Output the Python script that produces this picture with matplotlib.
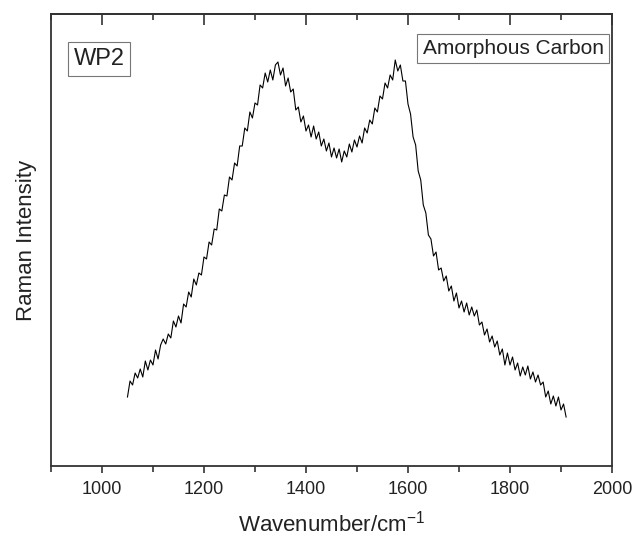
import matplotlib.pyplot as plt
from matplotlib.ticker import MultipleLocator

plt.rcParams['font.family'] = ['Liberation Sans', 'DejaVu Sans']

# Raman spectrum (arbitrary intensity units)
wavenumber = list(range(1050, 1915, 5))
intensity = [
    69, 85, 81, 93, 88, 97, 89, 105, 96, 106,
    101, 116, 107, 121, 127, 122, 132, 128, 145, 139,
    150, 143, 162, 159, 174, 169, 187, 181, 193, 191,
    209, 207, 224, 221, 237, 236, 257, 255, 271, 270,
    289, 286, 303, 300, 320, 320, 338, 335, 354, 348,
    363, 361, 381, 378, 393, 384, 396, 386, 401, 404,
    391, 398, 380, 388, 374, 377, 356, 359, 344, 350,
    335, 341, 329, 340, 327, 334, 320, 327, 315, 323,
    309, 318, 308, 317, 304, 315, 309, 322, 314, 326,
    319, 330, 323, 338, 333, 346, 342, 358, 354, 370,
    367, 383, 378, 391, 386, 406, 395, 401, 385, 385,
    362, 352, 329, 321, 295, 286, 261, 253, 231, 227,
    210, 214, 196, 198, 185, 190, 175, 180, 165, 173,
    158, 165, 154, 163, 151, 159, 150, 156, 141, 144,
    131, 137, 124, 130, 119, 125, 111, 117, 101, 113,
    101, 109, 96, 103, 90, 99, 91, 100, 87, 94,
    84, 91, 81, 84, 69, 75, 62, 70, 60, 69,
    56, 62, 49,
]

sample_label = 'WP2'
material_label = 'Amorphous Carbon'

fig = plt.figure(figsize=(6.34, 5.36), dpi=100)
ax = fig.add_axes([0.0804, 0.1306, 0.8849, 0.8433])

ax.plot(wavenumber, intensity, color='black', linewidth=0.8)

ax.set_xlim(900, 2000)
ax.set_ylim(0, 452)

ax.xaxis.set_major_locator(MultipleLocator(200))
ax.xaxis.set_minor_locator(MultipleLocator(100))
ax.tick_params(axis='x', which='major', direction='out', length=5, width=1.2,
               labelsize=13, colors='#333333', labelcolor='#222222', pad=6)
ax.tick_params(axis='x', which='minor', direction='out', length=4, width=1.2,
               colors='#333333')
ax.set_yticks([])

# top axis: inward ticks, no labels
top = ax.secondary_xaxis('top')
top.xaxis.set_major_locator(MultipleLocator(200))
top.xaxis.set_minor_locator(MultipleLocator(100))
top.tick_params(which='major', direction='in', length=8, width=1.2, colors='#333333')
top.tick_params(which='minor', direction='in', length=4, width=1.2, colors='#333333')
top.set_xticklabels([])
top.spines['top'].set_linewidth(1.3)
top.spines['top'].set_color('#333333')

for s in ax.spines.values():
    s.set_linewidth(1.3)
    s.set_color('#333333')

ax.set_xlabel('Wavenumber/cm$^{\\mathregular{-1}}$', fontsize=16, color='#222222', labelpad=9)
ax.set_ylabel('Raman Intensity', fontsize=16, color='#222222', labelpad=10)

box = dict(boxstyle='square,pad=0.25', facecolor='white', edgecolor='#777777', linewidth=0.8)
ax.text(0.04, 0.900, sample_label, transform=ax.transAxes, fontsize=17,
        va='center', ha='left', bbox=box, color='#222222')
ax.text(0.985, 0.924, material_label, transform=ax.transAxes, fontsize=15,
        va='center', ha='right', bbox=box, color='#222222')

fig.savefig('out.png', dpi=100)
